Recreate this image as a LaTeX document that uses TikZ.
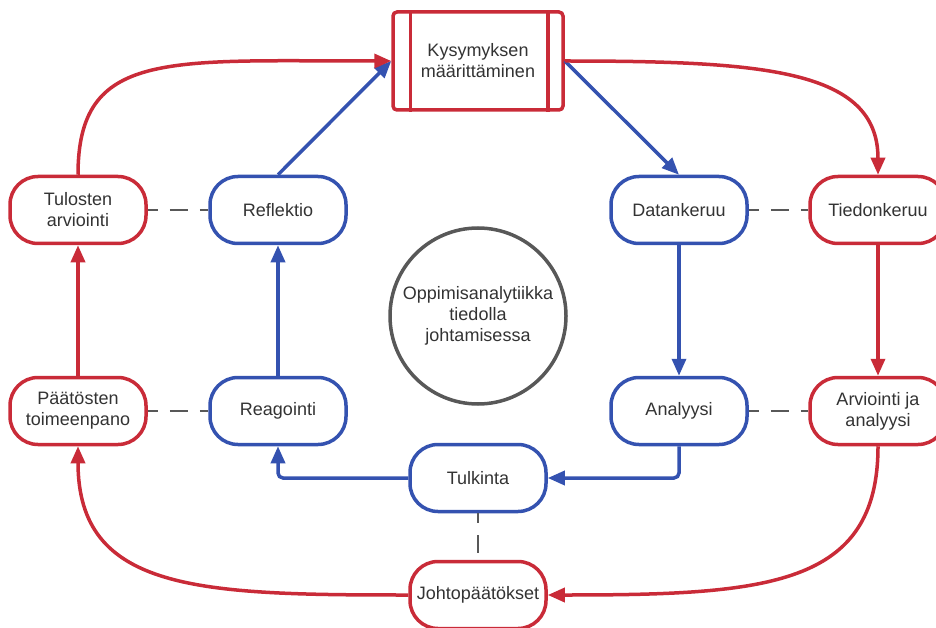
\documentclass[tikz,border=0pt]{standalone}
\usepackage{fontspec}
\setmainfont{Liberation Sans}
\usetikzlibrary{arrows.meta}
\definecolor{lcred}{RGB}{201,43,56}
\definecolor{lcblue}{RGB}{52,82,176}
\definecolor{lcgray}{RGB}{88,88,88}
\definecolor{lctext}{RGB}{51,51,51}

\begin{document}
\begin{tikzpicture}[x=1pt,y=-1pt,
  every node/.style={font=\fontsize{18}{21}\selectfont,text=lctext,align=center},
  redbox/.style={draw=lcred,line width=3.5pt,fill=white,rounded corners=28pt,minimum width=136pt,minimum height=67pt,inner sep=0pt},
  bluebox/.style={redbox,draw=lcblue},
  redflow/.style={draw=lcred,line width=3.5pt,-{Triangle[length=17pt,width=14pt]}},
  blueflow/.style={redflow,draw=lcblue},
  pairline/.style={draw=lcgray,line width=1.8pt,dash pattern=on 18pt off 12pt,dash phase=8pt}]
\useasboundingbox (0,0) rectangle (936,628);
% nodes
\node[draw=lcred,line width=3.5pt,rounded corners=4pt,fill=white,minimum width=170pt,minimum height=98pt,inner sep=0pt] (kys) at (478,61) {Kysymyksen\\määrittäminen};
\draw[lcred,line width=3.5pt] ([xshift=19pt]kys.north west) -- ([xshift=19pt]kys.south west) ([xshift=-17pt]kys.north east) -- ([xshift=-17pt]kys.south east);
\node[redbox] (tulo) at (78,210) {Tulosten\\arviointi};
\node[bluebox] (ref) at (278,210) {Reflektio};
\node[bluebox] (dat) at (679,210) {Datankeruu};
\node[redbox] (tied) at (878,210) {Tiedonkeruu};
\node[redbox] (paat) at (78,411) {Päätösten\\toimeenpano};
\node[bluebox] (rea) at (278,411) {Reagointi};
\node[bluebox] (ana) at (679,411) {Analyysi};
\node[redbox] (arv) at (878,411) {Arviointi ja\\analyysi};
\node[bluebox] (tulk) at (478,478) {Tulkinta};
\node[redbox] (joh) at (478,595) {Johtopäätökset};
\node[circle,draw=lcgray,line width=3.5pt,minimum size=176pt,inner sep=0pt] (oppi) at (478,316) {Oppimisanalytiikka\\tiedolla\\johtamisessa};
% pairs
\draw[pairline] (tulo) -- (ref);
\draw[pairline] (paat) -- (rea);
\draw[pairline] (dat) -- (tied);
\draw[pairline] (ana) -- (arv);
\draw[pairline] (tulk) -- (joh);
% inner cycle
\draw[blueflow] (ref.north) -- (kys.west);
\draw[blueflow] (kys.east) -- (dat.north);
\draw[blueflow] (dat.south) -- (ana.north);
\draw[blueflow,rounded corners=5pt] (ana.south) |- (tulk.east);
\draw[blueflow,rounded corners=5pt] (tulk.west) -| (rea.south);
\draw[blueflow] (rea.north) -- (ref.south);
% outer cycle
\draw[redflow] (tulo.north) .. controls +(0,-125) and +(-225,0) .. (kys.west);
\draw[redflow] (kys.east) .. controls +(200,0) and +(0,-105) .. (tied.north);
\draw[redflow] (tied.south) -- (arv.north);
\draw[redflow] (arv.south) .. controls +(0,140) and +(220,0) .. (joh.east);
\draw[redflow] (joh.west) .. controls +(-210,0) and +(0,145) .. (paat.south);
\draw[redflow] (paat.north) -- (tulo.south);
\end{tikzpicture}
\end{document}
